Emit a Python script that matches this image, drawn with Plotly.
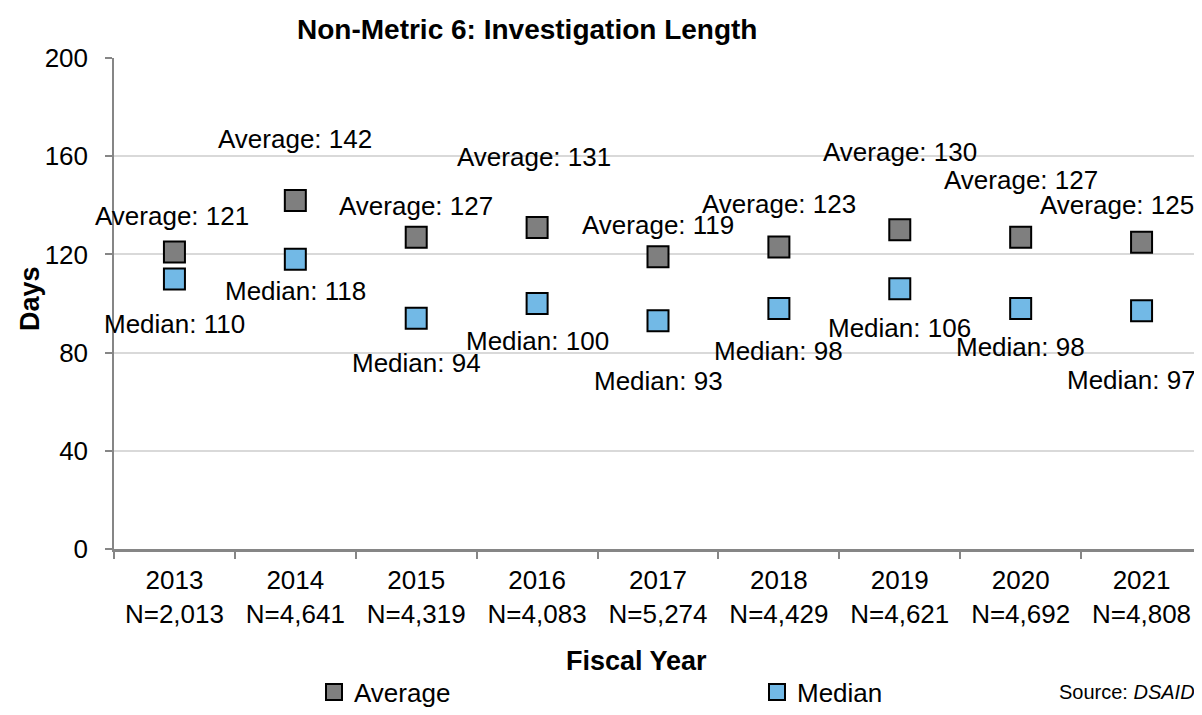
import plotly.graph_objects as go

# data
years = ["2013", "2014", "2015", "2016", "2017", "2018", "2019", "2020", "2021"]
n_counts = ["2,013", "4,641", "4,319", "4,083", "5,274", "4,429", "4,621", "4,692", "4,808"]
average_days = [121, 142, 127, 131, 119, 123, 130, 127, 125]
median_days = [110, 118, 94, 100, 93, 98, 106, 98, 97]

categories = [f"{y}<br>N={n}" for y, n in zip(years, n_counts)]

# label offsets in pixels (style only)
AVG_SHIFT_Y = [36, 61, 31, 70, 32, 43, 78, 57, 37]
AVG_SHIFT_X = [-2, 0, 0, -3, 0, 0, 0, 0, -25]
MED_SHIFT_Y = [-45, -32, -45, -37, -60, -43, -39, -39, -69]
MED_SHIFT_X = [0, 0, 0, 0, 0, 0, 0, 0, -10]

FONT = "Liberation Sans, Arial, sans-serif"
AVG_FILL = "#7F7F7F"
MED_FILL = "#72B9E6"
OFF = 8  # page body margin
W, H = 1202 - OFF, 715 - 2 * OFF
M_L, M_R, M_T, M_B = 114 - OFF, 0, 58 - OFF, 166 - OFF
PW = W - M_L - M_R
PH = H - M_T - M_B


def px_x(p):
    return (p - OFF - M_L) / PW


def px_y(p):
    return (H - M_B - (p - OFF)) / PH


def label(x, y, text, size, **kw):
    fig.add_annotation(x=px_x(x), y=px_y(y), xref="paper", yref="paper", showarrow=False,
                       text=text, xanchor=kw.pop("xanchor", "center"), yanchor="middle",
                       font=dict(size=size, color="black", family=FONT), **kw)


def legend_at(x, y):
    return dict(orientation="h", xref="container", yref="container",
                x=(x - OFF) / W, y=1 - (y - OFF) / H, xanchor="left", yanchor="middle",
                font=dict(size=26, color="black", family=FONT), itemwidth=30,
                bgcolor="rgba(0,0,0,0)")


fig = go.Figure()
fig.add_trace(go.Scatter(
    x=categories, y=average_days, name="Average", mode="markers", legend="legend",
    marker=dict(symbol="square", size=21, color=AVG_FILL, line=dict(color="black", width=2)),
))
fig.add_trace(go.Scatter(
    x=categories, y=median_days, name="Median", mode="markers", legend="legend2",
    marker=dict(symbol="square", size=21, color=MED_FILL, line=dict(color="black", width=2)),
))

for i, c in enumerate(categories):
    fig.add_annotation(x=c, y=average_days[i], text=f"Average: {average_days[i]}",
                       showarrow=False, xshift=AVG_SHIFT_X[i], yshift=AVG_SHIFT_Y[i],
                       font=dict(size=26, color="black", family=FONT))
    fig.add_annotation(x=c, y=median_days[i], text=f"Median: {median_days[i]}",
                       showarrow=False, xshift=MED_SHIFT_X[i], yshift=MED_SHIFT_Y[i],
                       font=dict(size=26, color="black", family=FONT))

# title, axis titles, source
label(527, 30, "<b>Non-Metric 6: Investigation Length</b>", 28)
label(30, 299, "<b>Days</b>", 27, textangle=-90)
label(636, 661, "<b>Fiscal Year</b>", 27)
label(1197, 692, "Source: <i>DSAID</i>", 20, xanchor="right")

# outer chart border
fig.add_shape(type="rect", xref="paper", yref="paper",
              x0=px_x(7), x1=px_x(1230), y0=px_y(740), y1=px_y(6),
              line=dict(color="#D9D9D9", width=2), layer="below")

fig.update_layout(
    width=W, height=H,
    margin=dict(l=M_L, r=M_R, t=M_T, b=M_B),
    paper_bgcolor="white", plot_bgcolor="white",
    font=dict(family=FONT, size=26, color="black"),
    showlegend=True,
    legend=legend_at(314, 692),
    legend2=legend_at(757, 692),
)
fig.update_xaxes(
    type="category", tickson="boundaries", ticks="outside", ticklen=7, tickwidth=2,
    tickcolor="#868686", showline=True, linecolor="#868686", linewidth=3,
    showgrid=False, ticklabelstandoff=6, tickfont=dict(size=26, color="black"),
    range=[-0.5, 8.5],
)
fig.update_yaxes(
    range=[0, 200], tickvals=[0, 40, 80, 120, 160, 200], ticks="outside", ticklen=7,
    tickwidth=1.5, tickcolor="#868686", showline=True, linecolor="#868686", linewidth=1.5,
    showgrid=True, gridcolor="#D9D9D9", gridwidth=1.5, zeroline=False,
    ticklabelstandoff=12, tickfont=dict(size=26, color="black"),
)

fig.write_html("out.html")
